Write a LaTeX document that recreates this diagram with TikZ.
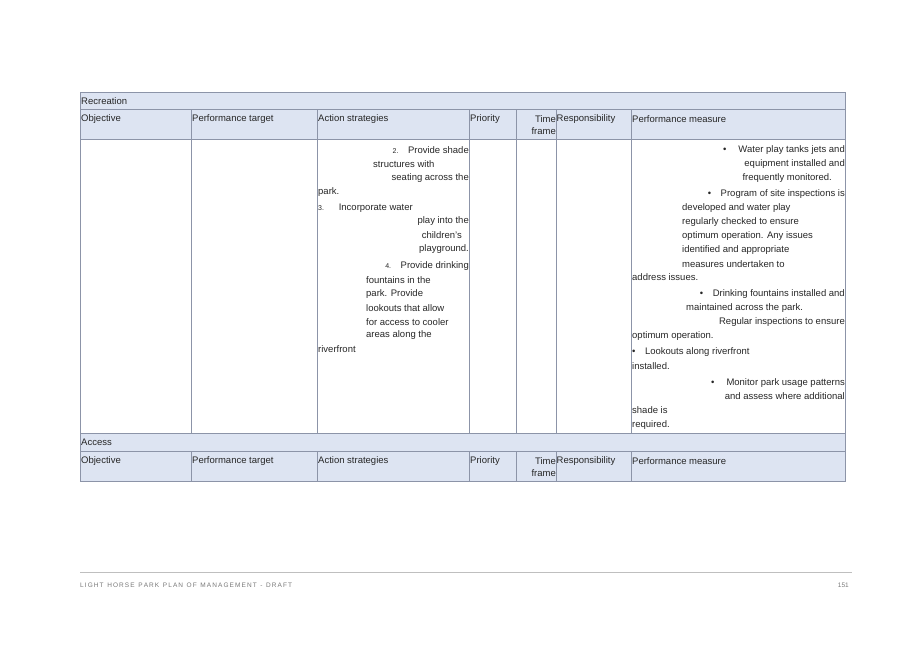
\documentclass[tikz,border=0pt]{standalone}
\usepackage{fontspec}
\setmainfont{Liberation Sans}
\usetikzlibrary{calc}
\definecolor{headblue}{RGB}{221,228,242}
\definecolor{rulegray}{RGB}{140,148,168}
\definecolor{footgray}{RGB}{120,120,120}
\tikzset{
  txt/.style={inner sep=0pt, font=\fontsize{9.5}{11}\selectfont, text=black!85},
  lft/.style={txt, anchor=west},
  rgt/.style={txt, anchor=east},
  grid/.style={draw=rulegray, line width=0.8pt}
}
\begin{document}
\begin{tikzpicture}[x=1pt, y=-1pt]
      \useasboundingbox (0,0) rectangle (917,648);
      % table background and rules
      \fill[headblue] (80,92) rectangle (845,139);
      \fill[headblue] (80,433) rectangle (845,481);
      \draw[grid] (80,92) rectangle (845,481);
      \foreach \y in {109,139,433,451}
        \draw[grid] (80,\y) -- (845,\y);
      \foreach \x in {191,317,469,516,556,631}
        {\draw[grid] (\x,109) -- (\x,433);
         \draw[grid] (\x,451) -- (\x,481);}

      \node[lft] (rec) at (81,101) {Recreation};
      \node[lft] (acc) at (81,442) {Access};
      \foreach \yy/\k in {119/a, 461/b}
        {\node[lft] (obj\k) at (81,\yy) {Objective};
         \node[lft] (tgt\k) at (192,\yy) {Performance target};
         \node[lft] (act\k) at (318,\yy) {Action strategies};
         \node[lft] (pri\k) at (470,\yy) {Priority};
         \node[rgt] (tim\k) at (556,\yy) {Time};
         \node[rgt] (frm\k) at (556,\yy+12) {frame};
         \node[lft] (res\k) at (556.5,\yy) {Responsibility};
         \node[lft] (msr\k) at (632,\yy) {Performance measure};}

      % action strategies
      \node[rgt] (s1) at (469,150) {{\fontsize{7}{8}\selectfont 2.}\quad Provide shade};
      \node[lft] (s2) at (373,164) {structures with};
      \node[rgt] (s3) at (469,178) {seating across the};
      \node[lft] (s4) at (318,192) {park.};
      \node[lft] (s5) at (318,208) {{\fontsize{7}{8}\selectfont 3.}\quad\ \ Incorporate water};
      \node[rgt] (s6) at (469,221) {play into the};
      \node[rgt] (s7) at (462,235) {children’s};
      \node[rgt] (s8) at (469,249) {playground.};
      \node[rgt] (s9) at (469,266) {{\fontsize{7}{8}\selectfont 4.}\quad Provide drinking};
      \node[lft] (s10) at (366,280) {fountains in the};
      \node[lft] (s11) at (366,294) {park. Provide};
      \node[lft] (s12) at (366,308) {lookouts that allow};
      \node[lft] (s13) at (366,322) {for access to cooler};
      \node[lft] (s14) at (366,335) {areas along the};
      \node[lft] (s15) at (318,349) {riverfront};

      % performance measures
      \node[rgt] (m1) at (845,150) {•\quad\ Water play tanks jets and};
      \node[rgt] (m2) at (845,164) {equipment installed and};
      \node[rgt] (m3) at (832,178) {frequently monitored.};
      \node[rgt] (m4) at (845,194) {•\quad Program of site inspections is};
      \node[lft] (m5) at (682,208) {developed and water play};
      \node[lft] (m6) at (682,222) {regularly checked to ensure};
      \node[lft] (m7) at (682,236) {optimum operation. Any issues};
      \node[lft] (m8) at (682,250) {identified and appropriate};
      \node[lft] (m9) at (682,264) {measures undertaken to};
      \node[lft] (m10) at (632,277) {address issues.};
      \node[rgt] (m11) at (845,294) {•\quad Drinking fountains installed and};
      \node[lft] (m12) at (686,308) {maintained across the park.};
      \node[rgt] (m13) at (845,322) {Regular inspections to ensure};
      \node[lft] (m14) at (632,336) {optimum operation.};
      \node[lft] (m15) at (632,352) {•\quad Lookouts along riverfront};
      \node[lft] (m16) at (632,366) {installed.};
      \node[rgt] (m17) at (845,383) {•\quad\ Monitor park usage patterns};
      \node[rgt] (m18) at (845,396) {and assess where additional};
      \node[lft] (m19) at (632,410) {shade is};
      \node[lft] (m20) at (632,425) {required.};

      % footer
      \draw[black!25, line width=0.6pt] (80,572) -- (852,572);
      \node[lft, font=\fontsize{6.5}{8}\selectfont, text=footgray] (foot) at (80,585)
        {L\,I\,G\,H\,T\ \ H\,O\,R\,S\,E\ \ P\,A\,R\,K\ \ P\,L\,A\,N\ \ O\,F\ \ M\,A\,N\,A\,G\,E\,M\,E\,N\,T\ \ -\ \ D\,R\,A\,F\,T};
      \node[rgt, font=\fontsize{6.5}{8}\selectfont, text=footgray] (page) at (849,585) {151};
\end{tikzpicture}
\end{document}
